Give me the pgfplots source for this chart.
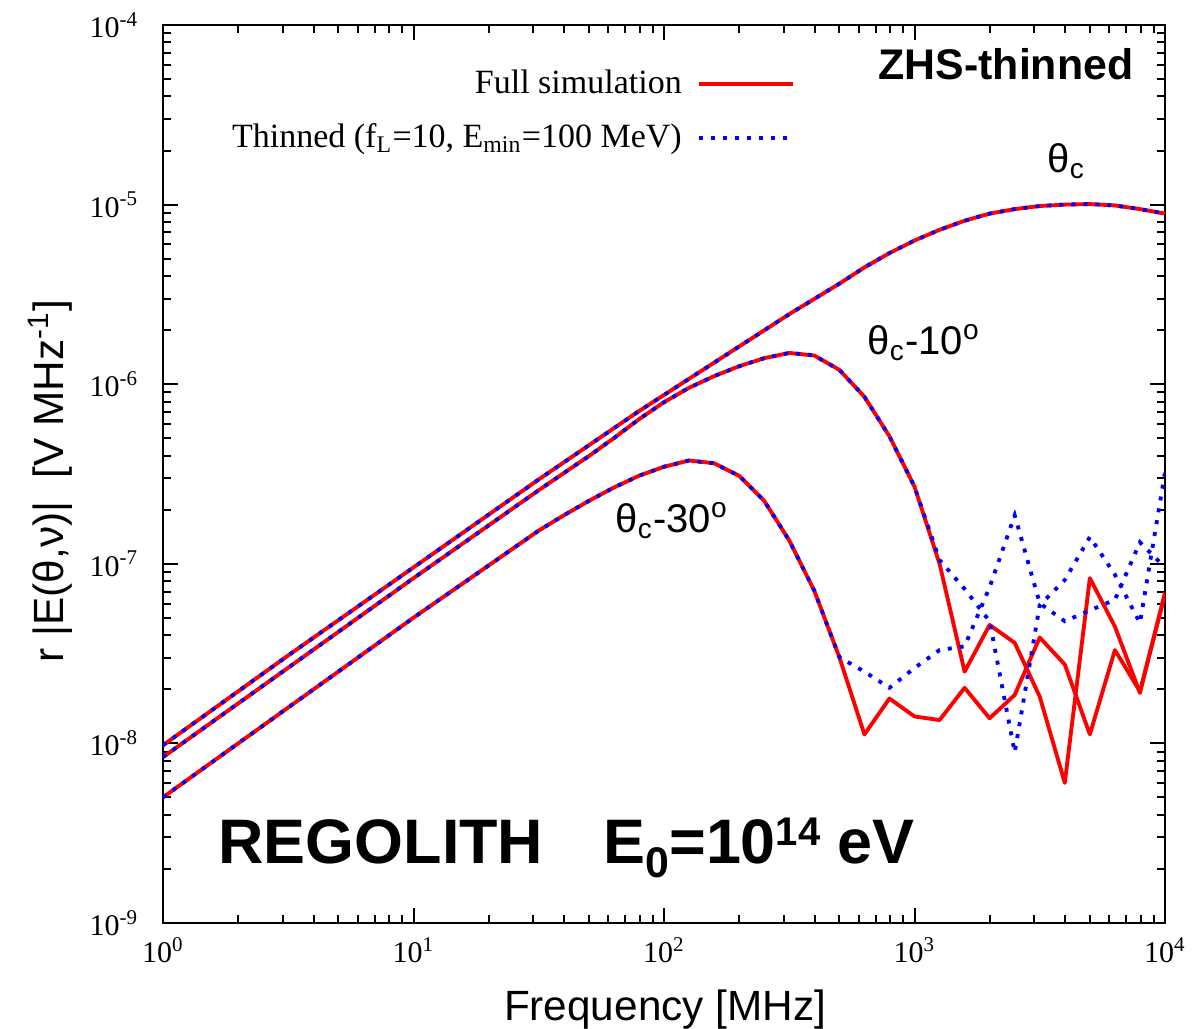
\documentclass[border=0pt]{standalone}
\usepackage{fontspec}
\setmainfont{Liberation Serif}
\setsansfont{Liberation Sans}
\usepackage{pgfplots}
\pgfplotsset{compat=1.18}

\definecolor{fullred}{RGB}{255,0,0}
\definecolor{thinblue}{RGB}{0,0,255}
\tikzset{annot/.style={anchor=base west, inner sep=0pt, font=\sffamily\fontsize{14}{16}\selectfont}}

\begin{document}
\begin{tikzpicture}
\useasboundingbox (-57.05pt,-37.1pt) rectangle (360.15pt,323.05pt);
\begin{axis}[
  at={(0pt,0pt)}, anchor=south west,
  scale only axis,
  width=350.7pt, height=314.3pt,
  xmode=log, ymode=log,
  xmin=1, xmax=10000,
  ymin=1e-9, ymax=1e-4,
  xtick={1,10,100,1000,10000},
  xticklabels={10\textsuperscript{0},10\textsuperscript{1},10\textsuperscript{2},10\textsuperscript{3},10\textsuperscript{4}},
  ytick={1e-9,1e-8,1e-7,1e-6,1e-5,1e-4},
  yticklabels={10\textsuperscript{-9},10\textsuperscript{-8},10\textsuperscript{-7},10\textsuperscript{-6},10\textsuperscript{-5},10\textsuperscript{-4}},
  minor xtick={2,3,4,5,6,7,8,9,20,30,40,50,60,70,80,90,200,300,400,500,600,700,800,900,2000,3000,4000,5000,6000,7000,8000,9000},
  minor ytick={2e-9,3e-9,4e-9,5e-9,6e-9,7e-9,8e-9,9e-9,2e-8,3e-8,4e-8,5e-8,6e-8,7e-8,8e-8,9e-8,2e-7,3e-7,4e-7,5e-7,6e-7,7e-7,8e-7,9e-7,2e-6,3e-6,4e-6,5e-6,6e-6,7e-6,8e-6,9e-6,2e-5,3e-5,4e-5,5e-5,6e-5,7e-5,8e-5,9e-5},
  major tick length=5.25pt, minor tick length=2.8pt,
  tick style={line width=0.7pt, black},
  axis line style={line width=0.9pt},
  tick label style={font=\fontsize{10.5}{12}\selectfont},
  xticklabel style={yshift=-1.5pt},
  yticklabel style={xshift=-5pt},
  xlabel={Frequency [MHz]},
  ylabel={r |E(θ,ν)|\ \ [V MHz\textsuperscript{-1}]},
  every axis x label/.style={at={(rel axis cs:0.501,-0.108)}, anchor=base, font=\sffamily\fontsize{14.8}{17}\selectfont},
  every axis y label/.style={at={(rel axis cs:-0.0998,0.492)}, rotate=90, anchor=base, font=\sffamily\fontsize{14.8}{17}\selectfont},
  legend style={at={(rel axis cs:0.64,0.963)}, anchor=north east, draw=none, fill=none,
    font=\fontsize{11.9}{13}\selectfont, row sep=5pt},
  legend cell align=right, legend plot pos=right,
  legend image code/.code={\path[draw=none] (0pt,0pt) -- (4pt,0pt); \draw[#1] (4pt,0pt) -- (37pt,0pt);},
  fullsim/.style={fullred, line width=1.35pt, line join=round},
  thinned/.style={thinblue, line width=1.35pt, dash pattern=on 1.4pt off 2.8pt},
]

% theta_c, full simulation
\addplot[fullsim] coordinates {
(1,9.77e-9) (3.162,3.09e-8) (10,9.55e-8) (31.62,2.95e-7) (39.81,3.67e-7)
(50.12,4.57e-7) (63.10,5.69e-7) (79.43,7.08e-7) (100,8.71e-7) (125.9,1.072e-6)
(158.5,1.318e-6) (199.5,1.622e-6) (251.2,1.995e-6) (316.2,2.455e-6) (398.1,2.985e-6)
(501.2,3.63e-6) (631.0,4.47e-6) (794.3,5.37e-6) (1000,6.31e-6) (1259,7.24e-6)
(1585,8.13e-6) (1995,8.91e-6) (2512,9.44e-6) (3162,9.82e-6) (3981,1.0e-5)
(5012,1.007e-5) (6310,9.89e-6) (7943,9.44e-6) (10000,8.91e-6)
};
\addlegendentry{Full simulation}

% theta_c, thinned
\addplot[thinned] coordinates {
(1,9.77e-9) (3.162,3.09e-8) (10,9.55e-8) (31.62,2.95e-7) (39.81,3.67e-7)
(50.12,4.57e-7) (63.10,5.69e-7) (79.43,7.08e-7) (100,8.71e-7) (125.9,1.072e-6)
(158.5,1.318e-6) (199.5,1.622e-6) (251.2,1.995e-6) (316.2,2.455e-6) (398.1,2.985e-6)
(501.2,3.63e-6) (631.0,4.47e-6) (794.3,5.37e-6) (1000,6.31e-6) (1259,7.24e-6)
(1585,8.13e-6) (1995,8.91e-6) (2512,9.44e-6) (3162,9.82e-6) (3981,1.0e-5)
(5012,1.007e-5) (6310,9.89e-6) (7943,9.44e-6) (10000,8.91e-6)
};
\addlegendentry{Thinned (f\textsubscript{L}=10, E\textsubscript{min}=100 MeV)}

% theta_c - 10 deg, full simulation
\addplot[fullsim, forget plot] coordinates {
(1,8.39e-9) (3.162,2.64e-8) (10,8.32e-8) (31.62,2.57e-7) (39.81,3.20e-7)
(50.12,3.98e-7) (63.10,5.01e-7) (79.43,6.38e-7) (100,7.94e-7) (125.9,9.55e-7)
(158.5,1.109e-6) (199.5,1.259e-6) (251.2,1.396e-6) (316.2,1.493e-6) (398.1,1.445e-6)
(501.2,1.202e-6) (631.0,8.51e-7) (794.3,5.13e-7) (1000,2.69e-7) (1259,1.0e-7)
(1585,2.51e-8) (1995,4.57e-8) (2512,3.63e-8) (3162,1.82e-8) (3981,6.03e-9)
(5012,8.32e-8) (6310,4.47e-8) (7943,1.91e-8) (10000,6.92e-8)
};

% theta_c - 30 deg, full simulation
\addplot[fullsim, forget plot] coordinates {
(1,5.01e-9) (3.162,1.585e-8) (10,5.01e-8) (31.62,1.531e-7) (39.81,1.862e-7)
(50.12,2.24e-7) (63.10,2.66e-7) (79.43,3.09e-7) (100,3.47e-7) (125.9,3.76e-7)
(158.5,3.63e-7) (199.5,3.09e-7) (251.2,2.24e-7) (316.2,1.349e-7) (398.1,7.08e-8)
(501.2,3.02e-8) (631.0,1.122e-8) (794.3,1.778e-8) (1000,1.413e-8) (1259,1.349e-8)
(1585,2.04e-8) (1995,1.380e-8) (2512,1.862e-8) (3162,3.89e-8) (3981,2.75e-8)
(5012,1.122e-8) (6310,3.31e-8) (7943,1.950e-8) (10000,6.76e-8)
};

% theta_c - 10 deg, thinned
\addplot[thinned, forget plot] coordinates {
(1,8.39e-9) (3.162,2.64e-8) (10,8.32e-8) (31.62,2.57e-7) (39.81,3.20e-7)
(50.12,3.98e-7) (63.10,5.01e-7) (79.43,6.38e-7) (100,7.94e-7) (125.9,9.55e-7)
(158.5,1.109e-6) (199.5,1.259e-6) (251.2,1.396e-6) (316.2,1.493e-6) (398.1,1.445e-6)
(501.2,1.202e-6) (631.0,8.51e-7) (794.3,5.13e-7) (1000,2.69e-7) (1259,1.05e-7)
(1585,7.24e-8) (1995,4.79e-8) (2512,8.91e-9) (3162,5.89e-8) (3981,8.13e-8)
(5012,1.41e-7) (6310,8.71e-8) (7943,4.68e-8) (10000,3.24e-7)
};

% theta_c - 30 deg, thinned
\addplot[thinned, forget plot] coordinates {
(1,5.01e-9) (3.162,1.585e-8) (10,5.01e-8) (31.62,1.531e-7) (39.81,1.862e-7)
(50.12,2.24e-7) (63.10,2.66e-7) (79.43,3.09e-7) (100,3.47e-7) (125.9,3.76e-7)
(158.5,3.63e-7) (199.5,3.09e-7) (251.2,2.24e-7) (316.2,1.349e-7) (398.1,7.08e-8)
(501.2,3.02e-8) (631.0,2.51e-8) (794.3,2.04e-8) (1000,2.63e-8) (1259,3.31e-8)
(1585,3.47e-8) (1995,7.41e-8) (2512,1.862e-7) (3162,6.03e-8) (3981,4.79e-8)
(5012,5.50e-8) (6310,6.31e-8) (7943,1.318e-7) (10000,9.55e-8)
};

% curve labels and titles
\node[annot] at (rel axis cs:0.8822,0.8363) {θ\textsubscript{c}};
\node[annot] at (rel axis cs:0.7026,0.6336) {θ\textsubscript{c}-10\textsuperscript{o}};
\node[annot] at (rel axis cs:0.4511,0.4354) {θ\textsubscript{c}-30\textsuperscript{o}};
\node[annot, font=\sffamily\bfseries\fontsize{15}{18}\selectfont] at (rel axis cs:0.7136,0.9388) {ZHS-thinned};
\node[annot, font=\sffamily\bfseries\fontsize{22}{26}\selectfont] at (rel axis cs:0.0549,0.0668) {REGOLITH};
\node[annot, font=\sffamily\bfseries\fontsize{22}{26}\selectfont] at (rel axis cs:0.4391,0.0668)
  {E\raisebox{-5pt}{\fontsize{15}{15}\selectfont 0}=10\raisebox{6.3pt}{\fontsize{14}{14}\selectfont 14} eV};
\end{axis}
\end{tikzpicture}
\end{document}
